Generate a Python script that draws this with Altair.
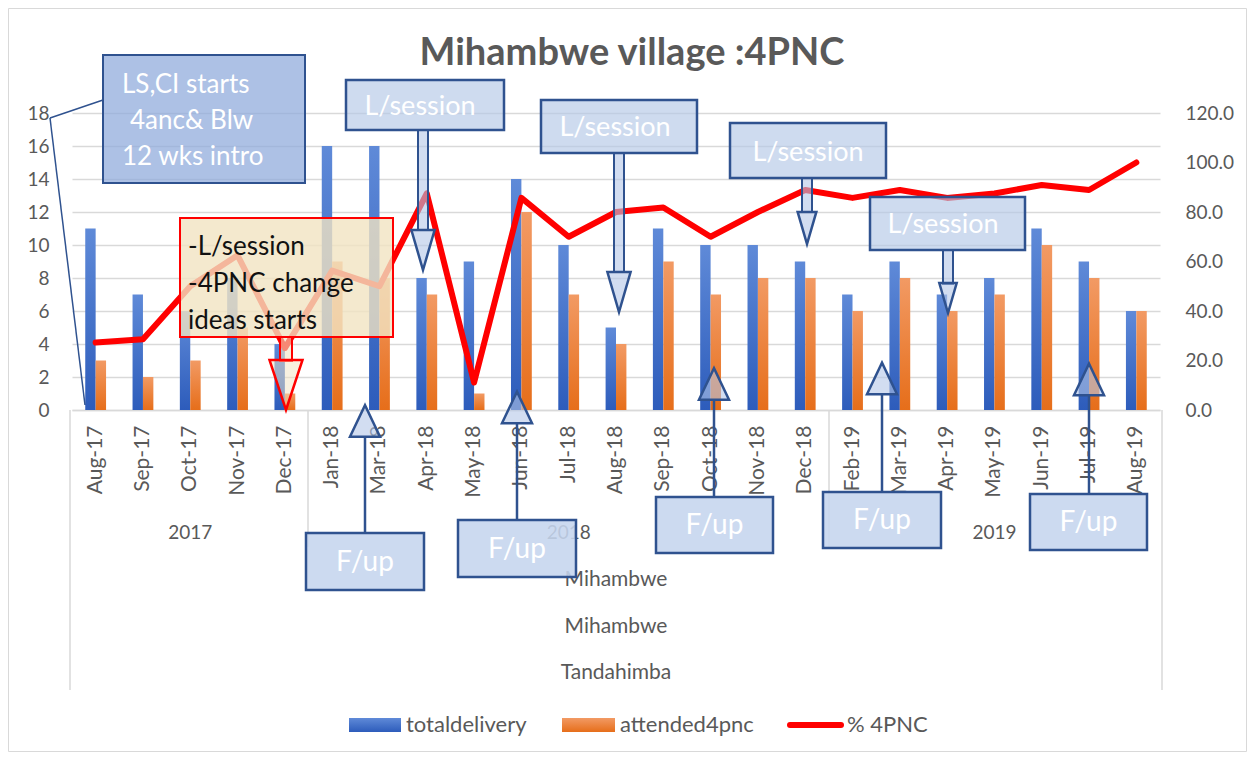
import altair as alt
import pandas as pd

# ---------------- data ----------------
months = ["Aug-17", "Sep-17", "Oct-17", "Nov-17", "Dec-17", "Jan-18", "Mar-18", "Apr-18",
          "May-18", "Jun-18", "Jul-18", "Aug-18", "Sep-18", "Oct-18", "Nov-18", "Dec-18",
          "Feb-19", "Mar-19", "Apr-19", "May-19", "Jun-19", "Jul-19", "Aug-19"]
totaldelivery = [11, 7, 6, 8, 4, 16, 16, 8, 9, 14, 10, 5, 11, 10, 10, 9, 7, 9, 7, 8, 11, 9, 6]
attended4pnc = [3, 2, 3, 5, 1, 9, 8, 7, 1, 12, 7, 4, 9, 7, 8, 8, 6, 8, 6, 7, 10, 8, 6]
pct_4pnc = [27.3, 28.6, 50.0, 62.5, 25.0, 56.3, 50.0, 87.5, 11.1, 85.7, 70.0, 80.0, 81.8,
            70.0, 80.0, 88.9, 85.7, 88.9, 85.7, 87.5, 90.9, 88.9, 100.0]
year_labels = ["2017", "2018", "2019"]
year_centers = ["Oct-17", "Jul-18", "May-19"]
series_names = ["totaldelivery", "attended4pnc", "% 4PNC"]
left_ticks = [0, 2, 4, 6, 8, 10, 12, 14, 16, 18]
right_ticks = [0, 20, 40, 60, 80, 100, 120]

FONT = "Lato"
GREY = "#595959"
DARKBLUE = "#2F528F"
W, H = 1088, 297

df_total = pd.DataFrame({"month": months, "value": totaldelivery, "series": series_names[0]})
df_att = pd.DataFrame({"month": months, "value": attended4pnc, "series": series_names[1]})
df_pct = pd.DataFrame({"month": months, "pct": pct_4pnc})
df_years = pd.DataFrame({"month": year_centers, "label": year_labels})

x_axis = alt.Axis(title=None, labelAngle=-90, labelFontSize=21, labelColor=GREY, labelFont=FONT,
                  ticks=False, domainColor="#D9D9D9", domainWidth=1.5, labelPadding=15,
                  labelOverlap=False, labelFlush=False)
x_enc = alt.X("month:N", sort=months, axis=x_axis,
              scale=alt.Scale(paddingInner=0.56, paddingOuter=0.28))
xoff = alt.XOffset("series:N", sort=series_names[:2],
                   scale=alt.Scale(domain=series_names[:2]))

blue_grad = alt.Gradient(gradient="linear", x1=0, x2=0, y1=0, y2=1,
                         stops=[alt.GradientStop(color="#5F8AD8", offset=0),
                                alt.GradientStop(color="#2D5CBB", offset=1)])
orange_grad = alt.Gradient(gradient="linear", x1=0, x2=0, y1=0, y2=1,
                           stops=[alt.GradientStop(color="#F29A64", offset=0),
                                  alt.GradientStop(color="#E66E1A", offset=1)])

bars_total = alt.Chart(df_total).mark_bar(color=blue_grad).encode(
    x=x_enc, xOffset=xoff,
    y=alt.Y("value:Q", scale=alt.Scale(domain=[0, 18], nice=False),
            axis=alt.Axis(title=None, values=left_ticks, grid=True, gridColor="#D9D9D9",
                          gridWidth=1.3, domain=False, ticks=False, labelFontSize=19,
                          labelColor=GREY, labelFont=FONT, labelPadding=23)))
bars_att = alt.Chart(df_att).mark_bar(color=orange_grad).encode(
    x=x_enc, xOffset=xoff,
    y=alt.Y("value:Q", scale=alt.Scale(domain=[0, 18], nice=False), axis=None))

line = alt.Chart(df_pct).mark_line(color="#FF0000", strokeWidth=6, strokeCap="round",
                                   strokeJoin="round").encode(
    x=x_enc,
    y=alt.Y("pct:Q", scale=alt.Scale(domain=[0, 120], nice=False),
            axis=alt.Axis(orient="right", title=None, values=right_ticks, format=".1f",
                          grid=False, domain=False, ticks=False, labelFontSize=19,
                          labelColor=GREY, labelFont=FONT, labelPadding=25)))

years = alt.Chart(df_years).mark_text(fontSize=19, color=GREY, font=FONT).encode(
    x=x_enc, y=alt.value(420), text="label:N")


# ---------------- decoration helpers ----------------
def dummy():
    return alt.Data(values=[{"k": 1}])


def rect(x1, y1, x2, y2, fill, fop, stroke=None, sw=0):
    kw = dict(fill=fill, fillOpacity=fop)
    if stroke:
        kw.update(stroke=stroke, strokeWidth=sw)
    return alt.Chart(dummy()).mark_rect(**kw).encode(
        x=alt.value(x1), x2=alt.value(x2), y=alt.value(y1), y2=alt.value(y2))


def seg(x1, y1, x2, y2, color, sw, cap="butt"):
    return alt.Chart(dummy()).mark_rule(color=color, strokeWidth=sw, strokeCap=cap).encode(
        x=alt.value(x1), x2=alt.value(x2), y=alt.value(y1), y2=alt.value(y2))


def label(x, y, txt, size, color, align="center", weight="normal", lh=None):
    kw = dict(text=txt, fontSize=size, color=color, align=align, baseline="middle",
              font=FONT, fontWeight=weight)
    if lh:
        kw["lineHeight"] = lh
    return alt.Chart(dummy()).mark_text(**kw).encode(x=alt.value(x), y=alt.value(y))


def head(x, y, path, size, fill, fop, stroke, sw=2.5):
    return alt.Chart(dummy()).mark_point(shape=path, size=size, filled=True, fill=fill,
                                         fillOpacity=fop, opacity=1, stroke=stroke,
                                         strokeWidth=sw, strokeJoin="miter").encode(
        x=alt.value(x), y=alt.value(y))


DOWN = "M-0.58,-1L0.58,-1L0,1Z"
DOWN_RED = "M-0.66,-1L0.66,-1L0,1Z"
UP = "M-0.95,1L0.95,1L0,-1Z"
LFILL = "#B4C7E7"

deco = []
# outer chart border
deco.append(rect(-63.5, -104.5, 1174.5, 638.5, "#ffffff", 0, "#D9D9D9", 1))
# category table lines
deco += [seg(-2, 297, -2, 577, "#D9D9D9", 1.5), seg(1090, 297, 1090, 577, "#D9D9D9", 1.5),
         seg(236, 297, 236, 434, "#D9D9D9", 1.5), seg(757, 297, 757, 434, "#D9D9D9", 1.5)]
# level labels
deco += [label(544, 467, "Mihambwe", 21, GREY), label(544, 514, "Mihambwe", 21, GREY),
         label(544, 560, "Tandahimba", 21, GREY)]
# title
deco.append(label(560, -59, "Mihambwe village :4PNC", 38, GREY, weight="bold"))

# LS,CI callout
deco += [seg(31, -13, -22, 5, DARKBLUE, 1.5), seg(-22, 5, 13, 292, DARKBLUE, 1.5),
         rect(31, -58, 233, 70, "#8EA9DB", 0.72, DARKBLUE, 2),
         label(50, -28, "LS,CI starts", 26, "#ffffff", align="left"),
         label(58, 8, "4anc& Blw", 26, "#ffffff", align="left"),
         label(50, 44, "12 wks intro", 26, "#ffffff", align="left")]

# red change-ideas callout
deco += [rect(108, 105, 321, 224, "#F1E3C2", 0.8, "#FF0000", 2),
         rect(208, 224, 220, 248, "#F1E3C2", 0.6, "#FF0000", 2),
         head(214, 272, DOWN_RED, 2500, "#F1E3C2", 0.5, "#FF0000"),
         label(116, 134, ["-L/session", "-4PNC change", "ideas starts"], 26, "#111111",
               align="left", lh=37)]

# L/session callouts: box, shaft, arrowhead, text
for (bx1, by1, bx2, by2, sx, sy2, hy, hs, tx, ty) in [
        (274, -33, 432, 17, 351, 117, 137, 400, 348, -6),
        (469, -13, 625, 40, 547, 159, 179, 400, 543, 15),
        (658, 10, 814, 65, 735, 99, 115, 260, 736, 40),
        (798, 84, 953, 137, 876, 171, 185, 225, 871, 112)]:
    deco += [rect(sx - 5, by2, sx + 5, sy2, LFILL, 0.6, DARKBLUE, 2),
             head(sx, hy, DOWN, hs * 4, LFILL, 0.6, DARKBLUE),
             rect(bx1, by1, bx2, by2, LFILL, 0.65, DARKBLUE, 2.5),
             label(tx, ty, "L/session", 27, "#ffffff")]

# F/up callouts
for (bx1, by1, bx2, by2, sx, base, hy) in [
        (234, 420, 352, 477, 293, 324, 308),
        (386, 407, 504, 464, 445, 310, 294.5),
        (584, 384, 701, 440, 642, 287, 271),
        (751, 379, 869, 435, 810, 281, 265.5),
        (958, 381, 1075, 437, 1017, 282, 266.5)]:
    deco += [seg(sx, by1, sx, base, DARKBLUE, 2.5),
             head(sx, hy, UP, 1000, LFILL, 0.6, DARKBLUE),
             rect(bx1, by1, bx2, by2, "#C5D5EE", 0.88, DARKBLUE, 2.5),
             label((bx1 + bx2) / 2, (by1 + by2) / 2 + 1, "F/up", 28, "#ffffff")]

# legend
deco += [rect(277, 605, 329, 619, blue_grad, 1),
         label(334, 612, series_names[0], 22, GREY, align="left"),
         rect(490, 605, 543, 619, orange_grad, 1),
         label(548, 612, series_names[1], 22, GREY, align="left"),
         seg(718, 612, 769, 612, "#FF0000", 6, cap="round"),
         label(775, 612, series_names[2], 22, GREY, align="left")]

chart = alt.layer(bars_total, bars_att, line, years, *deco).resolve_scale(
    y="independent"
).properties(
    width=W, height=H,
    autosize=alt.AutoSizeParams(type="none"),
    padding={"left": 64, "top": 105, "right": 87, "bottom": 342},
    background="white",
).configure_view(stroke=None)

chart.save("out.html", embed_options={"renderer": "svg", "actions": False})
